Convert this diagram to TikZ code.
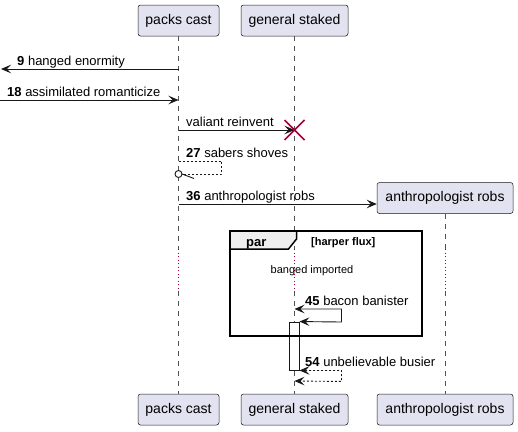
\documentclass[tikz,border=0pt]{standalone}
\usepackage{fontspec}
\setmainfont{Liberation Sans}
\usetikzlibrary{arrows.meta,positioning}
\definecolor{partfill}{HTML}{E2E2F0}
\definecolor{partline}{HTML}{181818}
\definecolor{crim}{HTML}{A80036}
\definecolor{tabfill}{HTML}{EEEEEE}

\tikzset{
  pu/.tip={Stealth[length=10pt,width=8.5pt,inset=4pt]},
  part/.style={draw=partline,fill=partfill,rounded corners=2.5pt,line width=0.5pt,
    minimum height=31pt,inner sep=0pt,font=\fontsize{14}{16}\selectfont},
  life/.style={partline!75,line width=0.5pt,dash pattern=on 5pt off 5pt},
  delay/.style={crim,line width=1pt,dash pattern=on 1pt off 2.5pt},
  msg/.style={partline,line width=0.9pt,-pu},
  ret/.style={msg,dash pattern=on 2pt off 2pt},
  lbl/.style={font=\fontsize{13}{15}\selectfont,inner sep=0pt,anchor=base west},
}

\begin{document}
\begin{tikzpicture}[x=1pt,y=-1pt]
    \useasboundingbox (0,0) rectangle (518,431);
    % participants
    \node[part,minimum width=81pt] (pc) at (178.5,20.5) {packs cast};
    \node[part,minimum width=107pt] (gs) at (294.5,20.5) {general staked};
    \node[part,minimum width=136pt] (ar) at (445,198) {anthropologist robs};
    \node[part,minimum width=81pt] (pc-b) at (178.5,409.5) {packs cast};
    \node[part,minimum width=107pt] (gs-b) at (294.5,409.5) {general staked};
    \node[part,minimum width=136pt] (ar-b) at (445,409.5) {anthropologist robs};

    % lifelines, dotted where the delay is
    \coordinate (dlyT) at (0,249);
    \coordinate (dlyB) at (0,291);
    \foreach \p in {pc,gs,ar}{
        \draw[life] (\p.south) -- (\p.south |- dlyT);
        \draw[delay] (\p.south |- dlyT) -- (\p.south |- dlyB);
        \draw[life] (\p.south |- dlyB) -- (\p-b.north);
    }

    % messages
    \coordinate (out9) at (1,69);
    \draw[msg] (pc |- out9) -- (out9);
    \node[lbl] (l9) at (17,65) {\textbf{9} hanged enormity};

    \coordinate (in18) at (0,100);
    \draw[msg] (in18) -- (pc |- in18);
    \node[lbl] (l18) at (7,96) {\textbf{18} assimilated romanticize};

    \coordinate (kill) at (gs |- 0,130);
    \draw[msg] (pc |- kill) -- (kill);
    \draw[crim,line width=1.5pt] ([shift={(-10,-10)}]kill) -- ([shift={(10,10)}]kill)
        ([shift={(-10,10)}]kill) -- ([shift={(10,-10)}]kill);
    \node[lbl] (lkill) at (186,126) {valiant reinvent};

    \coordinate (s27) at (pc |- 0,161);
    \draw[ret,-] (s27) -- ++(43,0) -- ++(0,13) -- ++(-39.5,0) coordinate (e27);
    \draw[partline,line width=0.9pt,fill=white] ([shift={(0,13)}]s27) circle (3.5pt);
    \draw[partline,line width=0.9pt] (e27) -- ++(12,4.5);
    \node[lbl] (l27) at (186,157) {\textbf{27} sabers shoves};

    \coordinate (c36) at (0,204);
    \draw[msg] (pc |- c36) -- (ar.west |- c36);
    \node[lbl] (l36) at (186,200) {\textbf{36} anthropologist robs};

    % activation
    \node[draw=partline,fill=white,line width=0.9pt,minimum width=10pt,minimum height=48pt,
        inner sep=0pt] (act) at (294,346) {};

    \draw[msg,{pu}-{pu}] (gs |- 0,309) -- ++(47,0) -- ++(0,13) -- (act.north east);
    \node[lbl] (l45) at (305,305) {\textbf{45} bacon banister};

    \draw[ret,{pu}-{pu}] (act.south east) -- ++(42,0) -- ++(0,11) -- (gs |- 0,381);
    \node[lbl] (l54) at (305,366) {\textbf{54} unbelievable busier};

    % par group
    \draw[line width=1.5pt] (230,231) rectangle (422,336);
    \filldraw[fill=tabfill,line width=1.5pt] (230,231) -- (296.5,231) -- (296.5,239)
        -- (288.5,249) -- (230,249) -- cycle;
    \node[lbl,font=\bfseries\fontsize{13}{15}\selectfont] (par) at (246,246) {par};
    \node[lbl,font=\bfseries\fontsize{11}{13}\selectfont] (cond) at (311,245) {[harper flux]};
    \node[font=\fontsize{11}{13}\selectfont,inner sep=0pt] (dly) at (312,271) {banged imported};
\end{tikzpicture}
\end{document}
